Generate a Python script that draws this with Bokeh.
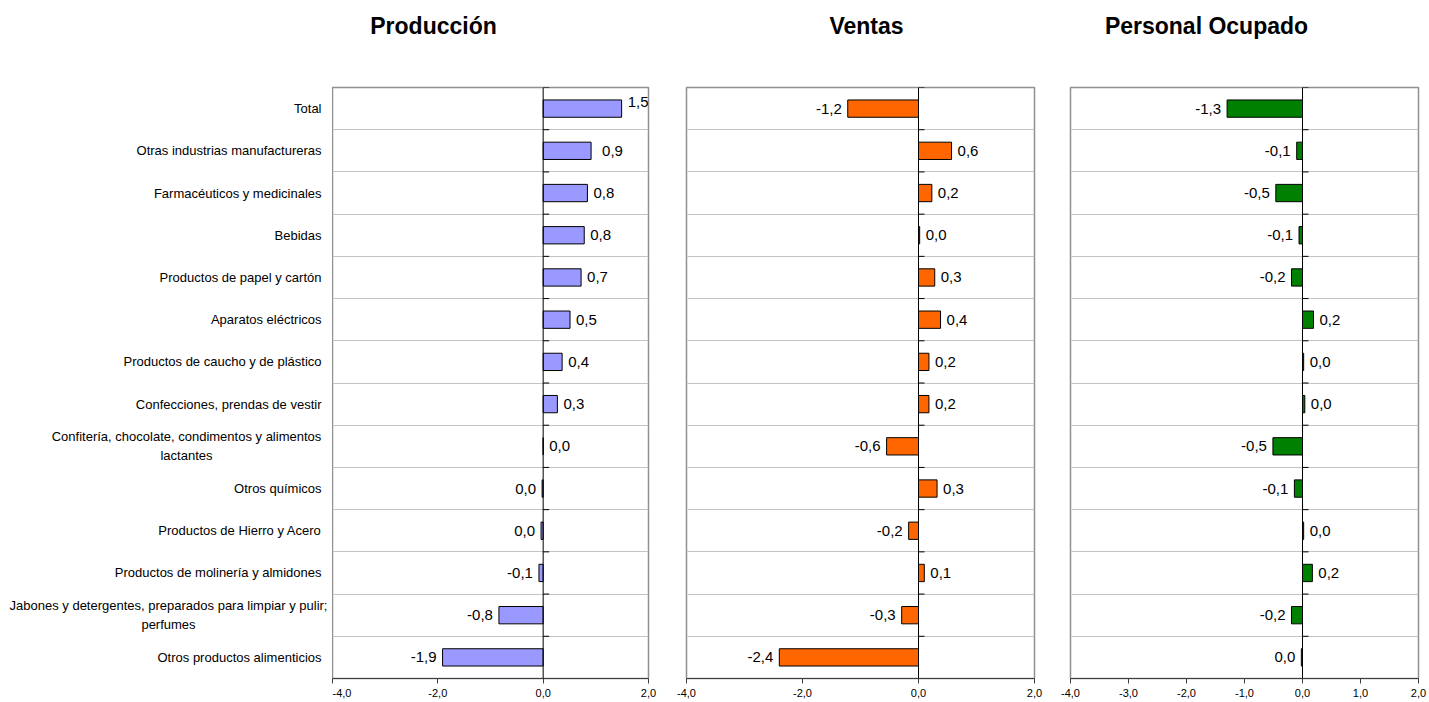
from bokeh.plotting import figure
from bokeh.layouts import row, column
from bokeh.models import Range1d, FixedTicker, Span, ColumnDataSource
from bokeh.core.properties import value
from bokeh.embed import file_html
from bokeh.resources import INLINE

# ---------------- data ----------------
categories = [
    "Total",
    "Otras industrias manufactureras",
    "Farmacéuticos y medicinales",
    "Bebidas",
    "Productos de papel y cartón",
    "Aparatos eléctricos",
    "Productos de caucho y de plástico",
    "Confecciones, prendas de vestir",
    "Confitería, chocolate, condimentos y alimentos\nlactantes",
    "Otros químicos",
    "Productos de Hierro y Acero",
    "Productos de molinería y almidones",
    "Jabones y detergentes, preparados para limpiar y pulir;\nperfumes",
    "Otros productos alimenticios",
]
produccion = [1.49, 0.91, 0.84, 0.78, 0.72, 0.51, 0.36, 0.27, 0.0, -0.02, -0.04, -0.08, -0.84, -1.91]
ventas = [-1.22, 0.57, 0.23, 0.02, 0.28, 0.38, 0.18, 0.18, -0.55, 0.32, -0.17, 0.10, -0.29, -2.40]
personal = [-1.30, -0.10, -0.46, -0.06, -0.19, 0.19, 0.02, 0.04, -0.51, -0.14, 0.02, 0.17, -0.19, -0.02]
panel_titles = ["Producción", "Ventas", "Personal Ocupado"]
ticks_produccion = [-4, -2, 0, 2]
ticks_ventas = [-4, -2, 0, 2]
ticks_personal = [-4, -3, -2, -1, 0, 1, 2]
colors = ["#9999FF", "#FF6600", "#008000"]

# ---------------- style / layout ----------------
FONT = "Liberation Sans"
N = len(categories)
centers = [N - i - 0.5 for i in range(N)]
bounds = list(range(1, N + 1))
X0, X1 = -4, 2
PAGE_W = 1429
TITLE_H = 50
PANEL_H = 702 - TITLE_H
TOP, BOTTOM = 37, 24
LABEL_W = 332
title_centers_px = [433, 866, 1206]
wrapped_center_px = {8: 186, 12: 168}
label_right_px = 321
# per-label pixel nudges (x, y; screen px, y downwards) for value labels, as in the original chart
nudges_produccion = {0: (0, -7), 1: (5, 0)}


def fmt(v):
    s = f"{v:.1f}".replace(".", ",")
    return "0,0" if s == "-0,0" else s


def bare(fig):
    fig.background_fill_color = "white"
    fig.border_fill_color = "white"
    fig.outline_line_color = None
    fig.grid.visible = False
    return fig


# title strip
pt = bare(figure(width=PAGE_W, height=TITLE_H, x_range=Range1d(0, PAGE_W), y_range=Range1d(0, TITLE_H),
                 output_backend="svg", toolbar_location=None, x_axis_location=None,
                 y_axis_location=None, min_border=0))
pt.text(x=title_centers_px, y=[TITLE_H - 25] * 3, text=panel_titles, text_align="center",
        text_baseline="middle", text_font=value(FONT), text_font_size="23px",
        text_font_style="bold", text_color="black")

# category label strip
pl = bare(figure(width=LABEL_W, height=PANEL_H, x_range=Range1d(0, LABEL_W), y_range=Range1d(0, N),
                 output_backend="svg", toolbar_location=None, x_axis_location=None,
                 y_axis_location=None, min_border_left=0, min_border_right=0,
                 min_border_top=TOP, min_border_bottom=BOTTOM))
single = [(c, t) for c, t in zip(centers, categories) if "\n" not in t]
wrapped = [(wrapped_center_px[i], c, t) for i, (c, t) in enumerate(zip(centers, categories)) if "\n" in t]
pl.text(x=[label_right_px] * len(single), y=[c for c, _ in single], text=[t for _, t in single],
        text_align="right", text_baseline="middle", text_font=value(FONT),
        text_font_size="13px", text_color="black")
pl.text(x=[w[0] for w in wrapped], y=[w[1] for w in wrapped], text=[w[2] for w in wrapped],
        text_align="center", text_baseline="middle", text_font=value(FONT),
        text_font_size="13px", text_color="black", text_line_height=1.25)


def make_panel(vals, color, ticks, width, bl, br, nudges=None):
    nudges = nudges or {}
    p = figure(width=width, height=PANEL_H, x_range=Range1d(X0, X1), y_range=Range1d(0, N),
               output_backend="svg", toolbar_location=None, y_axis_location=None,
               min_border_left=bl, min_border_right=br, min_border_top=TOP,
               min_border_bottom=BOTTOM)
    p.background_fill_color = "white"
    p.border_fill_color = "white"
    p.outline_line_color = "#909090"
    p.outline_line_width = 1.5
    p.xgrid.visible = False
    p.ygrid.ticker = FixedTicker(ticks=bounds[:-1])
    p.ygrid.grid_line_color = "#c4c4c4"
    p.ygrid.grid_line_width = 1

    ax = p.xaxis[0]
    ax.ticker = FixedTicker(ticks=ticks)
    ax.major_label_overrides = {t: fmt(t) for t in ticks}
    ax.major_tick_out = 5
    ax.major_tick_in = 0
    ax.minor_tick_out = 0
    ax.minor_tick_in = 0
    ax.axis_line_color = "#404040"
    ax.major_tick_line_color = "#404040"
    ax.major_label_text_font = FONT
    ax.major_label_text_font_size = "11px"
    ax.major_label_text_color = "black"
    ax.major_label_standoff = 5

    src = ColumnDataSource(dict(y=centers, v=vals))
    p.hbar(y="y", left=0, right="v", height=0.41, fill_color=color,
           line_color="black", line_width=1, source=src)

    for positive, align, off in ((True, "left", 6), (False, "right", -6)):
        idx = [i for i, v in enumerate(vals) if (v >= 0) == positive]
        if not idx:
            continue
        s = ColumnDataSource(dict(
            y=[centers[i] for i in idx], v=[vals[i] for i in idx],
            lab=[fmt(vals[i]) for i in idx],
            xo=[off + nudges.get(i, (0, 0))[0] for i in idx],
            yo=[nudges.get(i, (0, 0))[1] for i in idx]))
        p.text(x="v", y="y", text="lab", source=s, x_offset="xo", y_offset="yo",
               text_align=align, text_baseline="middle", text_font=value(FONT),
               text_font_size="15px", text_color="black")

    p.add_layout(Span(location=0, dimension="height", line_color="black", line_width=1))
    p.ray(x=[0] * len(bounds), y=bounds, length=6, length_units="screen", angle=0,
          line_color="black", line_width=1)
    return p


# frames at page x 332..648, 686..1034, 1070..1418
p1 = make_panel(produccion, colors[0], ticks_produccion, 334, 0, 18, nudges_produccion)
p2 = make_panel(ventas, colors[1], ticks_ventas, 386, 20, 18)
p3 = make_panel(personal, colors[2], ticks_personal, 377, 18, 11)

layout = column(pt, row(pl, p1, p2, p3))
layout.margin = (0, -8, -8, 0)

open("out.html", "w").write(file_html(layout, INLINE))
